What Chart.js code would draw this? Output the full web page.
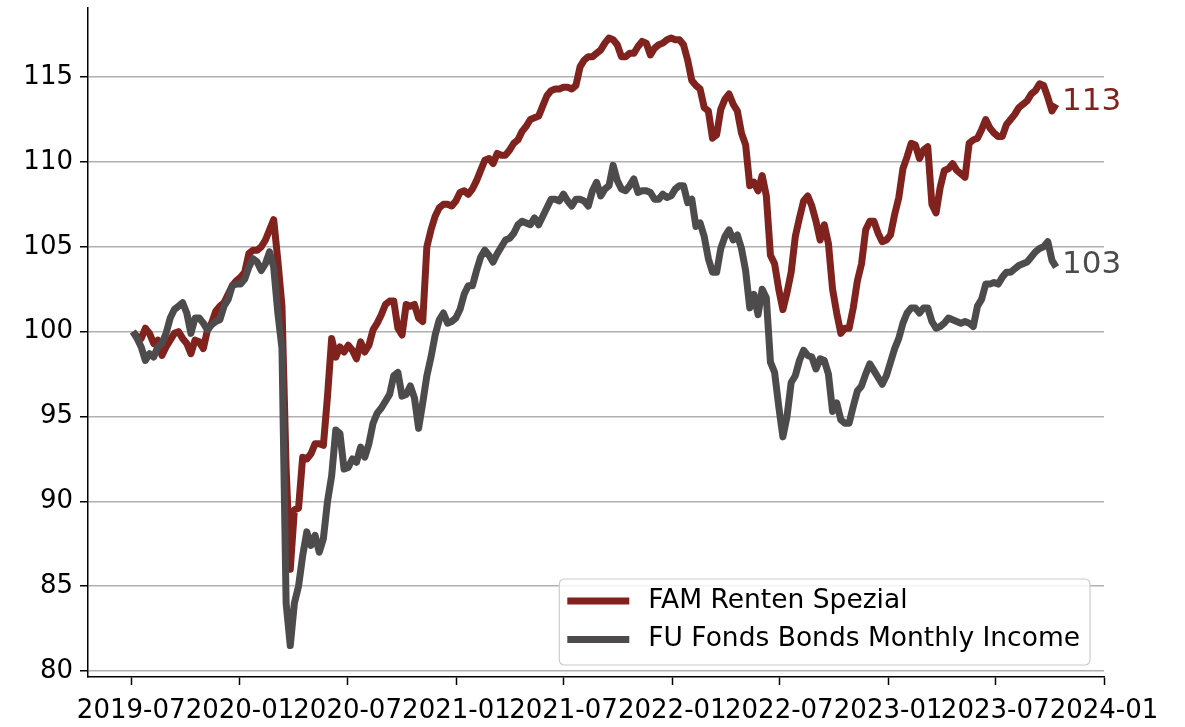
<!DOCTYPE html>
<html>
<head>
<meta charset="utf-8">
<script src="https://cdn.jsdelivr.net/npm/chart.js@4.4.0/dist/chart.umd.min.js"></script>
<style>
  html, body { margin: 0; padding: 0; background: #fff; }
</style>
</head>
<body>
<canvas id="chart" width="1185" height="727"></canvas>
<script>
// Weekly index values (start = 100)
const startDate = '2019-07-04';
const seriesNames = ['FAM Renten Spezial', 'FU Fonds Bonds Monthly Income'];
const seriesColors = ['#80231f', '#4d4b4c'];
const endLabels = ['113', '103'];

const famValues = [
  100.0, 99.7, 99.6, 100.2, 99.9, 99.3, 99.5, 98.6, 99.1, 99.5,
  99.9, 100.0, 99.6, 99.3, 98.7, 99.5, 99.4, 99.0, 100.1, 100.5,
  101.2, 101.5, 101.7, 102.2, 102.7, 103.0, 103.2, 103.5, 104.6, 104.8,
  104.8, 105.0, 105.4, 106.0, 106.6, 104.2, 101.5, 92.0, 86.0, 89.5,
  89.6, 92.6, 92.5, 92.8, 93.4, 93.4, 93.3, 96.2, 99.6, 98.5,
  99.1, 98.8, 99.2, 98.9, 98.4, 99.4, 98.8, 99.2, 100.1, 100.5,
  101.0, 101.6, 101.8, 101.8, 100.2, 99.8, 101.6, 101.5, 101.6, 100.8,
  100.6, 105.0, 106.0, 106.8, 107.3, 107.5, 107.5, 107.4, 107.7, 108.2,
  108.3, 108.1, 108.4, 108.9, 109.5, 110.1, 110.2, 109.9, 110.5, 110.4,
  110.4, 110.7, 111.1, 111.3, 111.8, 112.1, 112.5, 112.6, 112.7, 113.3,
  113.9, 114.2, 114.3, 114.3, 114.4, 114.4, 114.3, 114.5, 115.6, 116.0,
  116.2, 116.2, 116.4, 116.6, 117.0, 117.3, 117.2, 116.9, 116.2, 116.2,
  116.4, 116.4, 116.8, 117.1, 117.0, 116.3, 116.7, 116.9, 117.0, 117.2,
  117.3, 117.2, 117.2, 116.9, 116.0, 114.8, 114.5, 114.3, 113.2, 113.0,
  111.4, 111.6, 113.1, 113.7, 114.0, 113.4, 113.0, 111.7, 111.0, 108.6,
  108.8, 108.3, 109.2, 108.0, 104.5, 104.0, 102.5, 101.3, 102.3, 103.5,
  105.6, 106.7, 107.7, 108.0, 107.4, 106.5, 105.4, 106.3, 105.2, 102.5,
  101.1, 99.9, 100.2, 100.2, 101.4, 103.0, 104.0, 106.0, 106.5, 106.5,
  105.8, 105.3, 105.4, 105.7, 106.9, 107.9, 109.6, 110.3, 111.1, 111.0,
  110.2, 110.7, 110.9, 107.5, 107.0, 108.5, 109.5, 109.6, 109.9, 109.5,
  109.3, 109.1, 111.1, 111.3, 111.4, 111.9, 112.5, 112.0, 111.7, 111.5,
  111.5, 112.2, 112.5, 112.8, 113.2, 113.4, 113.6, 114.0, 114.2, 114.6,
  114.5, 113.8, 113.0, 113.4
];

const fuValues = [
  100.0, 99.6, 99.1, 98.3, 98.7, 98.5, 99.1, 99.3, 99.9, 100.8,
  101.3, 101.5, 101.7, 101.1, 99.9, 100.8, 100.8, 100.5, 100.1, 100.4,
  100.6, 100.7, 101.5, 101.9, 102.7, 102.8, 102.8, 103.1, 103.8, 104.3,
  104.1, 103.6, 104.0, 104.7, 103.8, 101.1, 99.0, 84.0, 81.5, 84.0,
  85.0, 86.8, 88.2, 87.4, 88.0, 87.0, 87.8, 90.0, 91.5, 94.2,
  94.0, 91.9, 92.0, 92.5, 92.3, 93.2, 92.6, 93.4, 94.6, 95.2,
  95.5, 95.9, 96.3, 97.4, 97.6, 96.2, 96.3, 96.8, 96.1, 94.3,
  95.8, 97.4, 98.5, 99.8, 100.7, 101.1, 100.5, 100.6, 100.8, 101.3,
  102.2, 102.7, 102.7, 103.6, 104.4, 104.8, 104.5, 104.1, 104.6, 105.0,
  105.4, 105.5, 105.8, 106.3, 106.5, 106.4, 106.3, 106.7, 106.3, 106.8,
  107.3, 107.8, 107.8, 107.7, 108.1, 107.7, 107.4, 107.8, 107.8, 107.7,
  107.4, 108.3, 108.8, 108.0, 108.4, 108.6, 109.8, 108.9, 108.4, 108.3,
  108.6, 109.0, 108.2, 108.3, 108.3, 108.2, 107.8, 107.8, 108.1, 107.9,
  108.0, 108.4, 108.6, 108.6, 107.6, 107.8, 106.2, 106.4, 105.6, 104.3,
  103.5, 103.5, 104.9, 105.6, 106.0, 105.4, 105.7, 104.9, 103.6, 101.4,
  102.2, 101.0, 102.5, 102.0, 98.2, 97.6, 95.6, 93.8, 95.0, 97.0,
  97.4, 98.3, 98.9, 98.6, 98.5, 97.8, 98.4, 98.3, 97.5, 95.3,
  95.8, 94.8, 94.6, 94.6, 95.6, 96.5, 96.8, 97.5, 98.1, 97.7,
  97.3, 96.9, 97.4, 98.2, 99.0, 99.6, 100.5, 101.1, 101.4, 101.4,
  101.1, 101.4, 101.4, 100.6, 100.2, 100.3, 100.5, 100.8, 100.7, 100.6,
  100.5, 100.6, 100.5, 100.3, 101.5, 101.9, 102.8, 102.8, 102.9, 102.8,
  103.2, 103.5, 103.5, 103.7, 103.9, 104.0, 104.1, 104.4, 104.7, 104.9,
  105.0, 105.3, 104.2, 103.8
];

const xTickLabels = ['2019-07', '2020-01', '2020-07', '2021-01', '2021-07',
                     '2022-01', '2022-07', '2023-01', '2023-07', '2024-01'];
const yTickValues = [80, 85, 90, 95, 100, 105, 110, 115];

// helpers
const DAY = 24 * 3600 * 1000;
const toTime = s => {
  const p = s.split('-').map(Number);
  return Date.UTC(p[0], p[1] - 1, p[2] || 1);
};
const t0 = toTime(startDate);
const weekly = vals => vals.map((v, i) => ({ x: t0 + i * 7 * DAY, y: v }));

// end value labels next to the last point of each line
const endLabelPlugin = {
  id: 'endLabelPlugin',
  afterDatasetsDraw(chart) {
    const ctx = chart.ctx;
    chart.data.datasets.forEach((ds, i) => {
      const pts = chart.getDatasetMeta(i).data;
      const last = pts[pts.length - 1];
      ctx.save();
      ctx.font = '31px "DejaVu Sans"';
      ctx.fillStyle = ds.borderColor;
      ctx.textBaseline = 'middle';
      ctx.textAlign = 'left';
      ctx.fillText(endLabels[i], last.x + 6, last.y - 2);
      ctx.restore();
    });
  }
};

// matplotlib-like legend box in the lower right
const legendPlugin = {
  id: 'legendPlugin',
  afterDraw(chart) {
    const ctx = chart.ctx;
    const area = chart.chartArea;
    ctx.save();
    ctx.font = '26.5px "DejaVu Sans"';
    const textW = Math.max(...seriesNames.map(n => ctx.measureText(n).width));
    const w = 8 + 62 + 19 + textW + 10;
    const h = 86;
    const right = area.right - 14;
    const bottom = area.bottom - 12;
    const left = right - w;
    const top = bottom - h;
    ctx.beginPath();
    ctx.roundRect(left, top, w, h, 5);
    ctx.fillStyle = 'rgba(255,255,255,0.85)';
    ctx.fill();
    ctx.strokeStyle = '#cccccc';
    ctx.lineWidth = 1.2;
    ctx.stroke();
    seriesNames.forEach((name, i) => {
      const y = top + 22 + i * 38.5;
      ctx.beginPath();
      ctx.moveTo(left + 8, y);
      ctx.lineTo(left + 70, y);
      ctx.strokeStyle = seriesColors[i];
      ctx.lineWidth = 7;
      ctx.stroke();
      ctx.fillStyle = '#000';
      ctx.textBaseline = 'middle';
      ctx.fillText(name, left + 89, y);
    });
    ctx.restore();
  }
};

Chart.defaults.font.family = '"DejaVu Sans"';
Chart.defaults.font.size = 26;
Chart.defaults.color = '#000';

new Chart(document.getElementById('chart'), {
  type: 'line',
  data: {
    datasets: [
      {
        label: seriesNames[0],
        data: weekly(famValues),
        borderColor: seriesColors[0],
        borderWidth: 7,
        borderJoinStyle: 'round',
        pointRadius: 0,
        tension: 0,
        order: 1
      },
      {
        label: seriesNames[1],
        data: weekly(fuValues),
        borderColor: seriesColors[1],
        borderWidth: 7,
        borderJoinStyle: 'round',
        pointRadius: 0,
        tension: 0,
        order: 0
      }
    ]
  },
  options: {
    responsive: false,
    animation: false,
    devicePixelRatio: 1,
    layout: { padding: { top: 8, right: 81, left: 0, bottom: 0 } },
    plugins: {
      legend: { display: false },
      tooltip: { enabled: false }
    },
    scales: {
      x: {
        type: 'linear',
        min: toTime('2019-04-19'),
        max: toTime('2024-01-01'),
        afterBuildTicks: scale => {
          scale.ticks = xTickLabels.map(l => ({ value: toTime(l) }));
        },
        afterFit: scale => {
          scale.height = 50;
          scale.paddingLeft = 0;
          scale.paddingRight = 0;
        },
        ticks: {
          autoSkip: false,
          maxRotation: 0,
          minRotation: 0,
          padding: 11,
          font: { size: 26 },
          callback: v => {
            const d = new Date(v);
            return d.getUTCFullYear() + '-' + String(d.getUTCMonth() + 1).padStart(2, '0');
          }
        },
        grid: {
          drawOnChartArea: false,
          drawTicks: true,
          tickLength: 8,
          tickColor: '#000',
          tickWidth: 1.5
        },
        border: { display: true, color: '#000', width: 1.5 }
      },
      y: {
        min: 79.65,
        max: 119.07,
        afterBuildTicks: scale => {
          scale.ticks = yTickValues.map(v => ({ value: v }));
        },
        afterFit: scale => {
          scale.width = 88;
          scale.paddingTop = 0;
          scale.paddingBottom = 0;
        },
        ticks: {
          padding: 7,
          font: { size: 26 },
          callback: v => v
        },
        grid: {
          color: '#b0b0b0',
          lineWidth: 1.5,
          drawTicks: true,
          tickLength: 8,
          tickColor: '#000',
          tickWidth: 1.5
        },
        border: { display: true, color: '#000', width: 1.5 }
      }
    }
  },
  plugins: [endLabelPlugin, legendPlugin]
});
</script>
</body>
</html>
